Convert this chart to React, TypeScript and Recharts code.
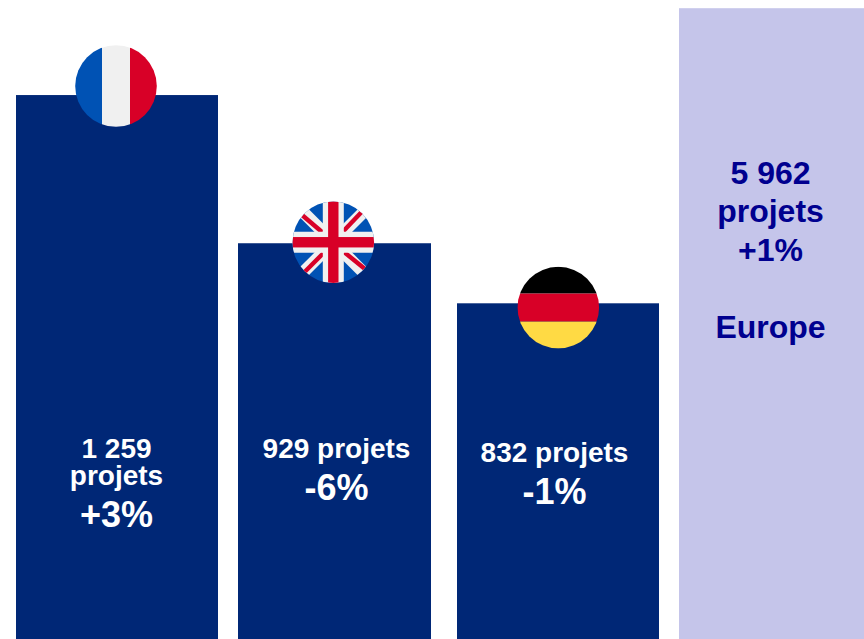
import React from "react";
import { BarChart, Bar, XAxis, YAxis, Cell, LabelList } from "recharts";

// Data
const regions = ["France", "Royaume-Uni", "Allemagne", "Europe"];
const plottedLevels = [1259, 916, 777, 1460];
const countLines = [["1 259", "projets"], ["929 projets"], ["832 projets"], ["5 962", "projets"]];
const changes = ["+3%", "-6%", "-1%", "+1%"];

const rows = regions.map((region, i) => ({ region, level: plottedLevels[i] }));

// Style and layout tuning (not data)
const NAVY = "#002776";
const PANEL = "#C5C5EA";
const PANEL_TEXT = "#00008F";
const barColors = [NAVY, NAVY, NAVY, PANEL];
const barWidths = [202, 193, 202, 185];
const barNudges = [9, 10.5, 18, 15.5];
const flagOffsets = [[-1, -9], [-1.2, -1], [0.3, 4.3]];
const FONT = '"Liberation Sans", Arial, sans-serif';

function France() {
  return (
    <g>
      <rect x={-41} y={-41} width={27} height={82} fill="#0052B4" />
      <rect x={-14} y={-41} width={28} height={82} fill="#F0F0F0" />
      <rect x={14} y={-41} width={27} height={82} fill="#D80027" />
    </g>
  );
}

function Germany() {
  return (
    <g>
      <rect x={-41} y={-41} width={82} height={27} fill="#000000" />
      <rect x={-41} y={-14} width={82} height={28} fill="#D80027" />
      <rect x={-41} y={14} width={82} height={27} fill="#FFDA44" />
    </g>
  );
}

function Britain() {
  return (
    <g>
      <rect x={-41} y={-41} width={82} height={82} fill="#0052B4" />
      <line x1={-41} y1={-41} x2={41} y2={41} stroke="#F0F0F0" strokeWidth={12} />
      <line x1={41} y1={-41} x2={-41} y2={41} stroke="#F0F0F0" strokeWidth={12} />
      <line x1={-31} y1={-27} x2={-11} y2={-10} stroke="#D80027" strokeWidth={4.4} />
      <line x1={29} y1={-31} x2={10} y2={-11} stroke="#D80027" strokeWidth={4.4} />
      <line x1={-29} y1={30} x2={-10} y2={11} stroke="#D80027" strokeWidth={4.4} />
      <line x1={32} y1={27} x2={11} y2={10} stroke="#D80027" strokeWidth={4.4} />
      <rect x={-10.5} y={-41} width={21} height={82} fill="#F0F0F0" />
      <rect x={-41} y={-10.5} width={82} height={21} fill="#F0F0F0" />
      <rect x={-5.2} y={-41} width={10.4} height={82} fill="#D80027" />
      <rect x={-41} y={-5.2} width={82} height={10.4} fill="#D80027" />
    </g>
  );
}

const flags = [France, Britain, Germany];

function BarShape(props: any) {
  const { x, y, width, height, index, fill } = props;
  const center = x + width / 2 + barNudges[index];
  const w = barWidths[index];
  const Flag = flags[index];
  const off = flagOffsets[index];
  return (
    <g>
      <rect x={Math.round(center - w / 2)} y={y} width={w} height={height} fill={fill} />
      {Flag && (
        <g transform={`translate(${center + (off ? off[0] : 0)},${y + (off ? off[1] : 0)})`}>
          <clipPath id={`flag-clip-${index}`}>
            <circle cx={0} cy={0} r={40.8} />
          </clipPath>
          <g clipPath={`url(#flag-clip-${index})`}>
            <Flag />
          </g>
        </g>
      )}
    </g>
  );
}

// Baselines, measured from the bar's bottom edge upward
const textCenterShift = [8.5, 12.5, 14.5, 14.5];
const countBaselines = [[181, 154], [181], [177], [455, 417]];
const changeBaselines = [112, 139, 135, 378];
const COUNT_SIZE = [28, 28, 28, 32];
const CHANGE_SIZE = [36, 36, 36, 32];

function BarLabels(props: any) {
  const { x, y, width, height, index } = props;
  const cx = x + width / 2 + textCenterShift[index];
  const bottom = y + height;
  const color = index === 3 ? PANEL_TEXT : "#FFFFFF";
  return (
    <g fontFamily={FONT} fontWeight="bold" fill={color} textAnchor="middle">
      {countLines[index].map((line, i) => (
        <text key={line} x={cx} y={bottom - countBaselines[index][i]} fontSize={COUNT_SIZE[index]}>
          {line}
        </text>
      ))}
      <text x={cx} y={bottom - changeBaselines[index]} fontSize={CHANGE_SIZE[index]}>
        {changes[index]}
      </text>
      {index === 3 && (
        <text x={cx} y={bottom - 301} fontSize={32}>
          {regions[3]}
        </text>
      )}
    </g>
  );
}

export default function App() {
  return (
    <div style={{ position: "absolute", left: 0, top: 0, width: 864, height: 639, overflow: "hidden", background: "#fff" }}>
      <BarChart
        width={864}
        height={639}
        data={rows}
        margin={{ top: 0, right: 0, bottom: 0, left: 0 }}
        barCategoryGap={0}
      >
        <XAxis dataKey="region" hide />
        <YAxis hide domain={[0, 1479]} />
        <Bar dataKey="level" isAnimationActive={false} shape={<BarShape />}>
          {rows.map((r, i) => (
            <Cell key={r.region} fill={barColors[i]} />
          ))}
          <LabelList dataKey="level" content={<BarLabels />} />
        </Bar>
      </BarChart>
    </div>
  );
}
